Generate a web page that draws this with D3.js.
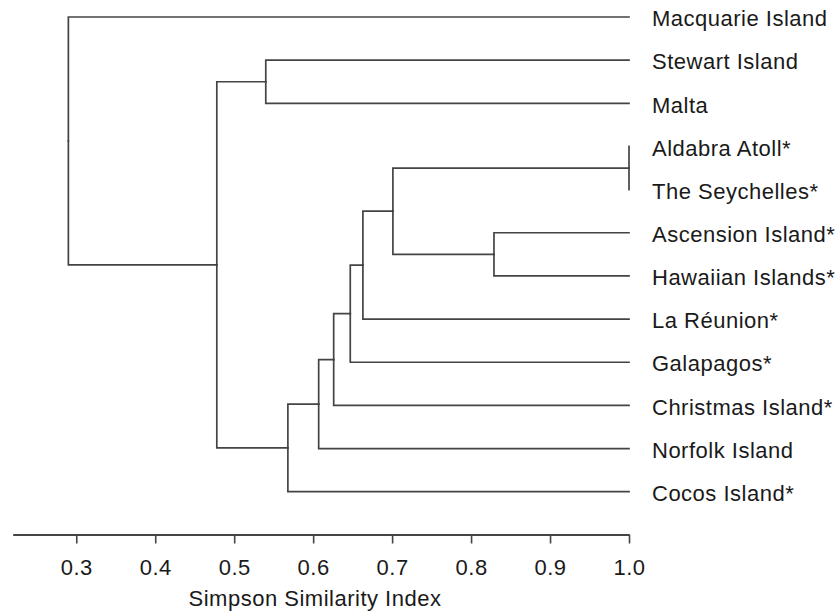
<!DOCTYPE html>
<html>
<head>
<meta charset="utf-8">
<script src="https://cdn.jsdelivr.net/npm/d3@7"></script>
<style>
  body { margin: 0; background: #fff; }
  text { font-family: "Liberation Sans", Arial, sans-serif; fill: #1a1a1a; letter-spacing: 0.5px; }
</style>
</head>
<body>
<div id="chart"></div>
<script>
"use strict";

// leaves, top to bottom
const leaves = [
  "Macquarie Island", "Stewart Island", "Malta", "Aldabra Atoll*",
  "The Seychelles*", "Ascension Island*", "Hawaiian Islands*", "La Réunion*",
  "Galapagos*", "Christmas Island*", "Norfolk Island", "Cocos Island*"
];

// merges: [id, left, right, similarity]
const merges = [
  ["n1", "Aldabra Atoll*", "The Seychelles*", 1.0],
  ["n2", "Ascension Island*", "Hawaiian Islands*", 0.829],
  ["n3", "n1", "n2", 0.701],
  ["n4", "n3", "La Réunion*", 0.663],
  ["n5", "n4", "Galapagos*", 0.647],
  ["n6", "n5", "Christmas Island*", 0.626],
  ["n7", "n6", "Norfolk Island", 0.607],
  ["n8", "n7", "Cocos Island*", 0.568],
  ["n9", "Stewart Island", "Malta", 0.540],
  ["n10", "n9", "n8", 0.478],
  ["root", "Macquarie Island", "n10", 0.290]
];

const tickValues = [0.3, 0.4, 0.5, 0.6, 0.7, 0.8, 0.9, 1.0];
const axisTitle = "Simpson Similarity Index";

///////////////////////////
// build tree
///////////////////////////
const nodes = {};
leaves.forEach((d) => (nodes[d] = { name: d, value: 1.0 }));
merges.forEach(([id, a, b, v]) => {
  nodes[id] = { name: id, value: v, children: [nodes[a], nodes[b]] };
});
const root = d3.hierarchy(nodes.root);

///////////////////////////
// scales
///////////////////////////
const width = 836, height = 614;
const x = d3.scaleLinear().domain([0.2195, 1.0]).range([12.7, 629]);
const y = d3.scalePoint().domain(leaves).range([17, 491.7]);

// leaf y from point scale, parents at midpoint of children
root.eachAfter((d) => {
  if (!d.children) d.py = y(d.data.name);
  else d.py = (d.children[0].py + d.children[d.children.length - 1].py) / 2;
  d.px = x(d.data.value);
});

const svg = d3
  .select("#chart")
  .append("svg")
  .attr("width", width)
  .attr("height", height);

// elbow links
svg
  .append("g")
  .selectAll("path")
  .data(root.links())
  .enter()
  .append("path")
  .attr("d", (l) => `M${l.source.px},${l.source.py}V${l.target.py}H${l.target.px}`)
  .attr("fill", "none")
  .attr("stroke", "#444")
  .attr("stroke-width", 1.7)
  .attr("stroke-linecap", "square");

// leaf labels
svg
  .append("g")
  .selectAll("text")
  .data(root.leaves())
  .enter()
  .append("text")
  .attr("x", 652)
  .attr("y", (d) => d.py + 1.5)
  .attr("dy", "0.35em")
  .style("font-size", "22px")
  .text((d) => d.data.name);

///////////////////////////
// axis
///////////////////////////
const axis = d3
  .axisBottom(x)
  .tickValues(tickValues)
  .tickFormat(d3.format(".1f"))
  .tickSize(9)
  .tickSizeOuter(0)
  .tickPadding(16);

const gAxis = svg
  .append("g")
  .attr("transform", "translate(0,534.5)")
  .call(axis);

gAxis.select(".domain").attr("stroke", "#444").attr("stroke-width", 1.8);
gAxis.selectAll(".tick line").attr("stroke", "#444").attr("stroke-width", 1.6);
gAxis
  .selectAll(".tick text")
  .attr("fill", "#1a1a1a")
  .style("font-family", '"Liberation Sans", Arial, sans-serif')
  .style("font-size", "22px");

svg
  .append("text")
  .attr("x", 315)
  .attr("y", 606)
  .attr("text-anchor", "middle")
  .style("font-size", "22px")
  .text(axisTitle);
</script>
</body>
</html>
